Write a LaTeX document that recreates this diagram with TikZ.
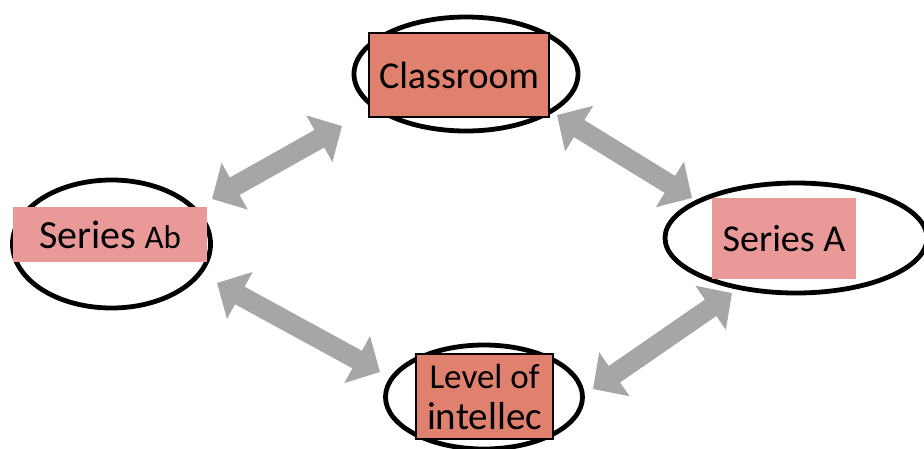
\documentclass[tikz,border=0pt]{standalone}
\usepackage{fontspec}
\setmainfont{Carlito}
\usetikzlibrary{arrows.meta,shapes.geometric}
\definecolor{salmonfill}{HTML}{E0806E}
\definecolor{pinkfill}{HTML}{EA9999}
\definecolor{arrowgray}{HTML}{A6A6A6}
\begin{document}
\begin{tikzpicture}[x=1pt,y=-1pt,
  ring/.style={ellipse, draw=black, line width=4.8pt, inner sep=0pt},
  darkbox/.style={rectangle, fill=salmonfill, draw=black, line width=1.2pt, inner sep=0pt, align=center, font=\fontsize{38}{41}\selectfont},
  lightbox/.style={rectangle, fill=pinkfill, inner sep=0pt, align=center, font=\fontsize{38}{41}\selectfont},
  dblarrow/.style={arrowgray, line width=20pt, {Triangle[width=52pt,length=26pt]}-{Triangle[width=52pt,length=26pt]}}
]
\useasboundingbox (0,0) rectangle (924,448);
\begin{scope}
\clip (0,0) rectangle (924,448);
% ellipses
\node[ring, minimum width=224pt, minimum height=114pt] (etop) at (466,74) {};
\node[ring, minimum width=198pt, minimum height=128pt] (eleft) at (111.5,244) {};
\node[ring, minimum width=262pt, minimum height=110pt] (eright) at (796,238) {};
\node[ring, minimum width=197pt, minimum height=104pt] (ebot) at (484,397) {};
% boxes
\node[darkbox, minimum width=180pt, minimum height=84pt] (classroom) at (459,75) {Classroom};
\node[lightbox, minimum width=194pt, minimum height=55pt] (seriesab) at (110,234.5) {{\fontsize{40}{41}\selectfont Series} {\fontsize{33}{36}\selectfont Ab}};
\node[lightbox, minimum width=144pt, minimum height=81pt] (seriesa) at (784,238.5) {Series A};
\node[darkbox, minimum width=137pt, minimum height=85pt] (level) at (484.5,396.5) {{\fontsize{35}{41}\selectfont Level of}\\{\fontsize{39}{41}\selectfont intellec}};
\end{scope}
% arrow end points
\coordinate (a1s) at (212,199); \coordinate (a1e) at (342,126);
\coordinate (a2s) at (217,283); \coordinate (a2e) at (380,372);
\coordinate (a3s) at (557,115); \coordinate (a3e) at (692,198);
\coordinate (a4s) at (593,389); \coordinate (a4e) at (732,293);
\draw[dblarrow] (a1s) -- (a1e);
\draw[dblarrow] (a2s) -- (a2e);
\draw[dblarrow] (a3s) -- (a3e);
\draw[dblarrow] (a4s) -- (a4e);
\end{tikzpicture}
\end{document}
